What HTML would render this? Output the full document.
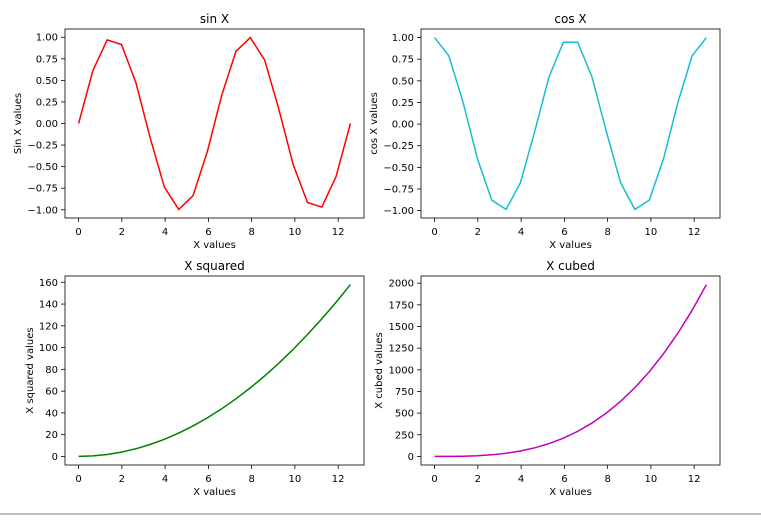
<!DOCTYPE html>
<html><head><meta charset="utf-8"><style>
body{margin:0;background:#fff;font-family:"Liberation Sans",sans-serif;}
svg text{font-family:"DejaVu Sans","Liberation Sans",sans-serif;fill:#000;}
</style></head><body>
<svg id="c" width="761" height="515" viewBox="0 0 761 515" xmlns="http://www.w3.org/2000/svg">
<line x1="0" y1="514" x2="761" y2="514" stroke="#aaa" stroke-width="1.5"/>
</svg>
<script>
const xValues=[0,0.661,1.323,1.984,2.646,3.307,3.968,4.630,5.291,5.952,6.614,7.275,7.937,8.598,9.259,9.921,10.582,11.243,11.905,12.566];
const sinValues=[0,0.614,0.969,0.916,0.476,-0.165,-0.738,-0.996,-0.837,-0.325,0.325,0.837,0.996,0.738,0.165,-0.476,-0.916,-0.969,-0.614,0];
const cosValues=[1,0.789,0.246,-0.402,-0.880,-0.986,-0.677,-0.083,0.546,0.946,0.946,0.546,-0.083,-0.677,-0.986,-0.880,-0.402,0.246,0.789,1];
const sqValues=[0,0.437,1.75,3.94,7.00,10.94,15.75,21.43,28.0,35.43,43.74,52.93,63.0,73.9,85.7,98.4,112.0,126.4,141.7,157.9];
const cubeValues=[0,0.29,2.3,7.8,18.5,36.2,62.5,99.2,148,211,289,385,500,636,794,976,1185,1421,1687,1984];
const xTicks=[0,2,4,6,8,10,12];
const trigTicks=[-1,-0.75,-0.5,-0.25,0,0.25,0.5,0.75,1];
const sqTicks=[0,20,40,60,80,100,120,140,160];
const cubeTicks=[0,250,500,750,1000,1250,1500,1750,2000];
const NS="http://www.w3.org/2000/svg";
const svg=document.getElementById('c');
function mk(tag,attrs,parent){const e=document.createElementNS(NS,tag);for(const k in attrs)e.setAttribute(k,attrs[k]);(parent||svg).appendChild(e);return e;}
function panel(key,L,T,W,H,ys,ticks,fmt,color,title,ylabel,ylabelX){
  const g=mk('g',{});
  
  
  const xmin=Math.min(...xValues),xmax=Math.max(...xValues),xm=(xmax-xmin)*0.05;
  const ymin=Math.min(...ys),ymax=Math.max(...ys),ym=(ymax-ymin)*0.05;
  const sx=v=>L+(v-(xmin-xm))/((xmax+xm)-(xmin-xm))*W;
  const sy=v=>T+H-(v-(ymin-ym))/((ymax+ym)-(ymin-ym))*H;
  xTicks.forEach(t=>{const x=sx(t);
    mk('line',{x1:x,y1:T+H,x2:x,y2:T+H+4,stroke:'#000','stroke-width':0.8},g);
    const tx=mk('text',{x:x,y:T+H+17,'font-size':10,'text-anchor':'middle'},g);tx.textContent=t;
    
    });
  ticks.forEach(t=>{const y=sy(t);
    mk('line',{x1:L-4,y1:y,x2:L,y2:y,stroke:'#000','stroke-width':0.8},g);
    const tx=mk('text',{x:L-7,y:y+3.5,'font-size':10,'text-anchor':'end'},g);tx.textContent=fmt(t);
    
    });
  const p=mk('polyline',{points:xValues.map((x,i)=>sx(x).toFixed(2)+','+sy(ys[i]).toFixed(2)).join(' '),fill:'none',stroke:color,'stroke-width':1.5},g);
  
  
  const r=mk('rect',{x:L,y:T,width:W,height:H,fill:'none',stroke:'#000','stroke-width':0.8},g);
  
  
  const tt=mk('text',{x:L+W/2,y:T-6,'font-size':12,'text-anchor':'middle'},g);tt.textContent=title;
  
  
  const xl=mk('text',{x:L+W/2,y:T+H+30,'font-size':10,'text-anchor':'middle'},g);xl.textContent='X values';
  
  
  const yl=mk('text',{x:ylabelX,y:T+H/2,'font-size':10,'text-anchor':'middle',transform:'rotate(-90 '+ylabelX+' '+(T+H/2)+')'},g);yl.textContent=ylabel;
  
  
}
const f2=v=>(v<0?'\u2212':'')+Math.abs(v).toFixed(2);
const f0=v=>String(v);
panel('sin',65,29,299,189,sinValues,trigTicks,f2,'#ff0000','sin X','Sin X values',21);
panel('cos',421,29,299,189,cosValues,trigTicks,f2,'#17becf','cos X','cos X values',377);
panel('squared',65,276,299,189,sqValues,sqTicks,f0,'#008000','X squared','X squared values',33);
panel('cubed',421,276,299,189,cubeValues,cubeTicks,f0,'#bf00bf','X cubed','X cubed values',382);
</script>
</body></html>
